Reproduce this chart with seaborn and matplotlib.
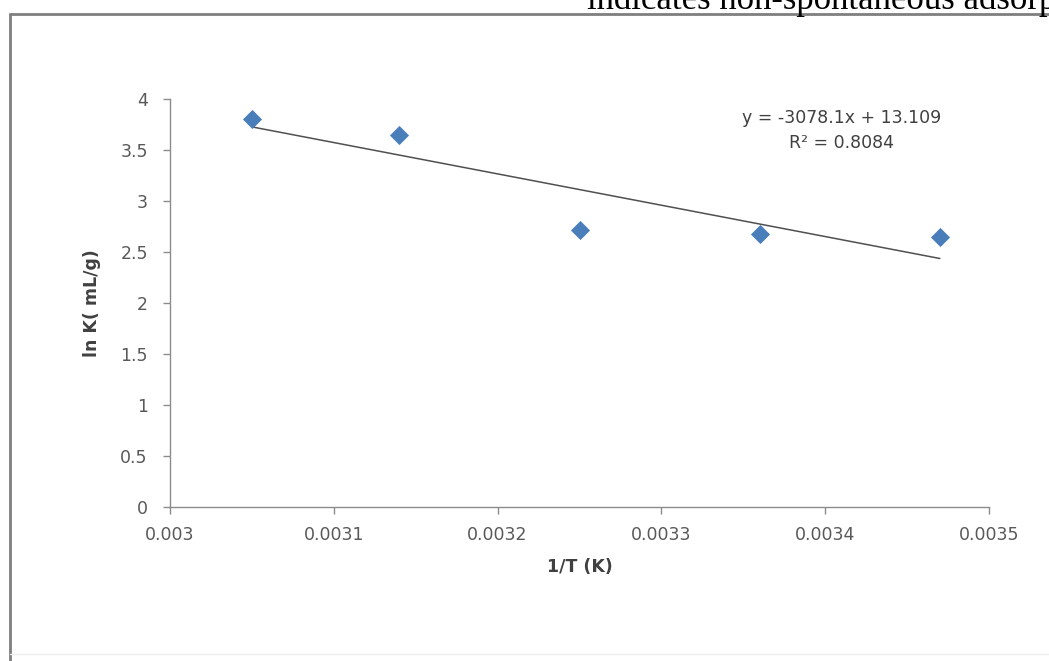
import numpy as np
import pandas as pd
import matplotlib
matplotlib.use('Agg')
import matplotlib.pyplot as plt
from matplotlib.lines import Line2D
import seaborn as sns

# данные
inv_T = [0.00305, 0.00314, 0.00325, 0.00336, 0.00347]
ln_K = [3.80, 3.65, 2.72, 2.68, 2.65]
x_ticks = [0.003, 0.0031, 0.0032, 0.0033, 0.0034, 0.0035]
x_tick_labels = ['0.003', '0.0031', '0.0032', '0.0033', '0.0034', '0.0035']
y_ticks = [0, 0.5, 1, 1.5, 2, 2.5, 3, 3.5, 4]
y_tick_labels = ['0', '0.5', '1', '1.5', '2', '2.5', '3', '3.5', '4']
eq_text = 'y = -3078.1x + 13.109\nR² = 0.8084'
header_text = 'indicates non-spontaneous adsorption'

data = pd.DataFrame({'inv_T': inv_T, 'ln_K': ln_K})

sns.set_style('white')
plt.rcParams['font.family'] = ['DejaVu Sans']

fig = plt.figure(figsize=(10.49, 6.61), dpi=100)
ax = fig.add_axes([0.1621, 0.2330, 0.7807, 0.6172])

axis_gray = '#8c8c8c'
text_gray = '#595959'

# линия тренда
sns.regplot(x='inv_T', y='ln_K', data=data, ax=ax, ci=None, scatter=False,
            line_kws=dict(color='#505050', linewidth=1.1))
# точки
sns.scatterplot(x='inv_T', y='ln_K', data=data, ax=ax, marker='D', s=95,
                color='#4a7ebb', edgecolor='#4a7ebb', linewidth=0, zorder=3)

ax.set_xlim(0.003, 0.0035)
ax.set_ylim(0, 4)
ax.set_xticks(x_ticks)
ax.set_xticklabels(x_tick_labels)
ax.set_yticks(y_ticks)
ax.set_yticklabels(y_tick_labels)
ax.tick_params(axis='both', which='major', direction='out', length=5, width=1,
               color=axis_gray, labelsize=12.5, labelcolor=text_gray)
ax.tick_params(axis='y', pad=11, left=True)
ax.tick_params(axis='x', pad=9, bottom=True)

for side in ['top', 'right']:
    ax.spines[side].set_visible(False)
for side in ['left', 'bottom']:
    ax.spines[side].set_color(axis_gray)
    ax.spines[side].set_linewidth(1)

ax.set_xlabel('1/T (K)', fontsize=12.5, fontweight='bold', color='#404040', labelpad=10)
ax.set_ylabel('ln K( mL/g)', fontsize=12.5, fontweight='bold', color='#404040', labelpad=14)

# уравнение тренда
ax.text(0.0034098, 3.69, eq_text, ha='center', va='center',
        fontsize=12.5, color='#404040', linespacing=1.5)

# рамка области диаграммы
fig.add_artist(Line2D([10/1049, 10/1049], [1 - 14/661, 0], transform=fig.transFigure,
                      color='#7f7f7f', linewidth=2))
fig.add_artist(Line2D([10/1049, 1.0], [1 - 14/661, 1 - 14/661], transform=fig.transFigure,
                      color='#7f7f7f', linewidth=2))
fig.add_artist(Line2D([10/1049, 1.0], [1 - 654/661, 1 - 654/661], transform=fig.transFigure,
                      color='#eeeeee', linewidth=1))

# обрезанный текст документа сверху
fig.text(587/1049, 1 - 9/661, header_text, ha='left', va='baseline', fontsize=25,
         family=['Liberation Serif', 'DejaVu Serif'], color='black')

fig.savefig('out.png', dpi=100)
